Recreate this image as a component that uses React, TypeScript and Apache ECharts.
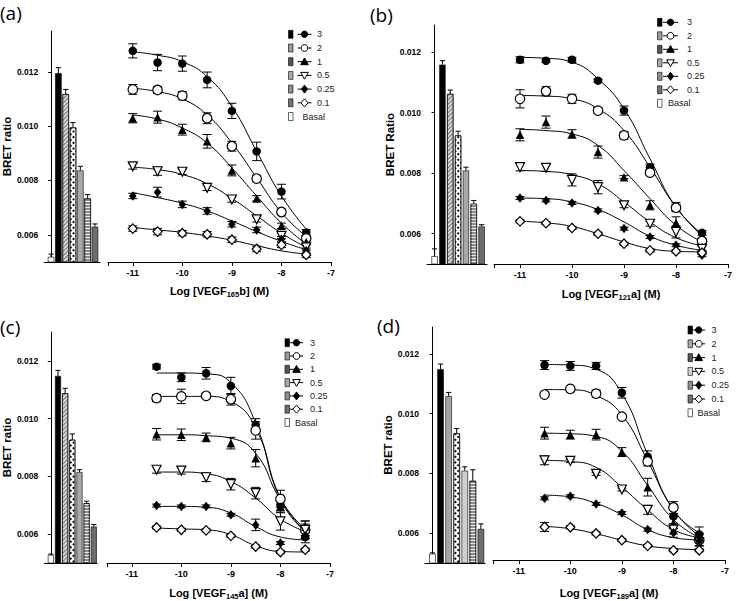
import React, { useEffect, useRef } from 'react';
import * as echarts from 'echarts';

// ---------- DATA ----------
const BAR_GROUPS = ['Basal', '3', '2', '1', '0.5', '0.25', '0.1'];
const CONCENTRATIONS = ['3', '2', '1', '0.5', '0.25', '0.1'];
const LOG_X_AB = [-11, -10.5, -10, -9.5, -9, -8.5, -8, -7.5];
const LOG_X_CD = [-10.5, -10, -9.5, -9, -8.5, -8, -7.5];
const X_MIN = -11.5;
const X_MAX = -7;
const Y_MIN = 0.005;

// Panel (a) VEGF165b
const A_BARS = [0.00519, 0.01195, 0.01118, 0.00995, 0.00837, 0.00734, 0.0063];
const A_BAR_ERR = [0.0001, 0.0002, 0.00017, 0.00018, 0.00015, 0.00014, 0.0001];
const A_POINTS = [
  [0.01277, 0.01234, 0.0123, 0.0117, 0.01056, 0.00907, 0.00759, 0.00609],
  [0.01135, 0.01133, 0.01112, 0.01029, 0.00926, 0.00807, 0.00684, 0.00587],
  [0.01029, 0.01033, 0.00987, 0.00944, 0.00837, 0.00734, 0.00633, 0.00574],
  [0.00852, 0.00834, 0.00832, 0.00773, 0.0073, 0.00657, 0.00596, 0.00554],
  [0.00743, 0.00757, 0.00712, 0.00688, 0.00639, 0.00618, 0.00584, 0.00541],
  [0.00623, 0.00612, 0.00606, 0.00602, 0.00582, 0.00548, 0.00563, 0.00526],
];
const A_ERR = [
  [0.00026, 0.0003, 0.00028, 0.00029, 0.00028, 0.00034, 0.00027, 0.0001],
  [0.00018, 0.00012, 0.00015, 0.0002, 0.00018, 0.00012, 0.0001, 0.0001],
  [0.00017, 0.00022, 0.0002, 0.00025, 0.0002, 0.0001, 0.0001, 0.0001],
  [0.0001, 0.00015, 0.0001, 0.0001, 0.0001, 0.0001, 0.0001, 0.0001],
  [0.0001, 0.00018, 0.00012, 0.00012, 0.0001, 0.0001, 0.0001, 0.0001],
  [0.0001, 0.00012, 0.0001, 0.0001, 0.0001, 0.0001, 0.0001, 0.0001],
];
const A_FIT = [
  [0.01273, 0.01261, 0.01237, 0.01182, 0.01072, 0.00907, 0.00743, 0.00621],
  [0.01139, 0.01127, 0.011, 0.01041, 0.00938, 0.0081, 0.00682, 0.00594],
  [0.01041, 0.01026, 0.00993, 0.00938, 0.00846, 0.00743, 0.00643, 0.00566],
  [0.00849, 0.0084, 0.00822, 0.00788, 0.00734, 0.0067, 0.00606, 0.00554],
  [0.00755, 0.00737, 0.00716, 0.00688, 0.00651, 0.00612, 0.00576, 0.00545],
  [0.00627, 0.00618, 0.00609, 0.00596, 0.0058, 0.0056, 0.00541, 0.00529],
];

// Panel (b) VEGF121a
const B_BARS = [0.00526, 0.01159, 0.01062, 0.00925, 0.00809, 0.00699, 0.00624];
const B_BAR_ERR = [0.00024, 0.00013, 0.00013, 0.00014, 0.00011, 0.00011, 0.00006];
const B_POINTS = [
  [0.01175, 0.01172, 0.01175, 0.01106, 0.01007, 0.0082, 0.00688, 0.00603],
  [0.01046, 0.01071, 0.01046, 0.01007, 0.00925, 0.00802, 0.00686, 0.00576],
  [0.00927, 0.00969, 0.0093, 0.0087, 0.00787, 0.00694, 0.00636, 0.00555],
  [0.0082, 0.00818, 0.00778, 0.00754, 0.00694, 0.00633, 0.00606, 0.0055],
  [0.00718, 0.0071, 0.00702, 0.00677, 0.00617, 0.00589, 0.00562, 0.00529],
  [0.00641, 0.00635, 0.00619, 0.006, 0.00567, 0.00545, 0.00542, 0.00537],
];
const B_ERR = [
  [0.0001, 0.00005, 0.00008, 0.00005, 0.00015, 0.0001, 0.00015, 0.00008],
  [0.0003, 0.00015, 0.00015, 0.0001, 0.00012, 0.0001, 0.0001, 0.00008],
  [0.0002, 0.0002, 0.00014, 0.0002, 0.00005, 0.00015, 0.0002, 0.0001],
  [0.00012, 0.00012, 0.0002, 0.00022, 0.00008, 0.00008, 0.0002, 0.0001],
  [0.00005, 0.00005, 0.00005, 0.00005, 0.00005, 0.00005, 0.00005, 0.00005],
  [0.00005, 0.00005, 0.00005, 0.00005, 0.00005, 0.00005, 0.00005, 0.00005],
];
const B_FIT = [
  [0.01183, 0.0118, 0.01167, 0.01112, 0.01013, 0.00848, 0.00688, 0.006],
  [0.01057, 0.01055, 0.01046, 0.01013, 0.00941, 0.0082, 0.00688, 0.00592],
  [0.00945, 0.00941, 0.0093, 0.00892, 0.00809, 0.00716, 0.00628, 0.00573],
  [0.00809, 0.00806, 0.00795, 0.00765, 0.00705, 0.00639, 0.00587, 0.0056],
  [0.00718, 0.00716, 0.00705, 0.0068, 0.00639, 0.00592, 0.00562, 0.00545],
  [0.00641, 0.00636, 0.00624, 0.006, 0.00573, 0.00551, 0.00542, 0.0054],
];

// Panel (c) VEGF145a
const C_BARS = [0.00528, 0.01148, 0.01088, 0.00927, 0.00815, 0.00707, 0.00626];
const C_BAR_ERR = [0.00003, 0.00019, 0.00017, 0.0002, 0.00008, 0.00007, 0.00007];
const C_POINTS = [
  [0.0118, 0.01143, 0.01157, 0.01113, 0.00978, 0.00701, 0.0059],
  [0.01071, 0.01077, 0.01079, 0.01067, 0.00959, 0.00722, 0.00615],
  [0.00946, 0.00944, 0.00935, 0.00915, 0.00863, 0.00696, 0.00626],
  [0.00823, 0.0082, 0.00797, 0.00773, 0.00742, 0.00644, 0.00615],
  [0.00699, 0.00696, 0.00696, 0.00667, 0.00632, 0.00569, 0.00594],
  [0.00623, 0.00615, 0.00613, 0.00594, 0.00557, 0.00538, 0.00546],
];
const C_ERR = [
  [0.00008, 0.00015, 0.0002, 0.0003, 0.00022, 0.0002, 0.0002],
  [0.00012, 0.00025, 0.0001, 0.0002, 0.0003, 0.0003, 0.0003],
  [0.0002, 0.0002, 0.00015, 0.0002, 0.0003, 0.0002, 0.0002],
  [0.00012, 0.00012, 0.00015, 0.0002, 0.0002, 0.0003, 0.0002],
  [0.00005, 0.00005, 0.00005, 0.00005, 0.0002, 0.00005, 0.0001],
  [0.00005, 0.00005, 0.00005, 0.00005, 0.00005, 0.00005, 0.00005],
];
const C_FIT = [
  [0.01158, 0.01158, 0.01155, 0.01125, 0.00984, 0.00719, 0.00609],
  [0.01077, 0.01077, 0.01077, 0.01059, 0.00967, 0.00725, 0.00609],
  [0.00944, 0.00944, 0.00941, 0.00932, 0.0088, 0.00719, 0.00615],
  [0.00815, 0.00815, 0.00809, 0.00782, 0.00725, 0.00652, 0.00609],
  [0.00696, 0.00696, 0.00693, 0.00673, 0.00626, 0.0059, 0.0058],
  [0.00621, 0.00618, 0.00615, 0.00598, 0.0056, 0.0054, 0.00538],
];

// Panel (d) VEGF189a
const D_BARS = [0.00531, 0.01149, 0.01058, 0.00934, 0.00809, 0.00775, 0.00614];
const D_BAR_ERR = [0.00003, 0.00017, 0.00013, 0.00016, 0.00013, 0.00037, 0.00017];
const D_POINTS = [
  [0.01161, 0.01158, 0.01158, 0.01067, 0.0085, 0.00648, 0.00587],
  [0.01061, 0.0108, 0.01064, 0.00986, 0.00834, 0.00678, 0.00567],
  [0.0093, 0.00925, 0.00925, 0.00866, 0.00747, 0.00626, 0.00581],
  [0.00838, 0.00836, 0.00792, 0.00739, 0.0067, 0.00603, 0.00559],
  [0.00709, 0.00716, 0.0069, 0.00659, 0.00603, 0.00592, 0.00565],
  [0.00612, 0.00611, 0.0059, 0.00567, 0.00548, 0.00533, 0.00533],
];
const D_ERR = [
  [0.00015, 0.00015, 0.00012, 0.00018, 0.0002, 0.00025, 0.00025],
  [0.00005, 0.00005, 0.00012, 0.00005, 0.00015, 0.0002, 0.0002],
  [0.0002, 0.00015, 0.00018, 0.00015, 0.0003, 0.0002, 0.0001],
  [0.00015, 0.00005, 0.00005, 0.00005, 0.00015, 0.00015, 0.0001],
  [0.00005, 0.00005, 0.00005, 0.00005, 0.00005, 0.00015, 0.00005],
  [0.00015, 0.00005, 0.00005, 0.00005, 0.00005, 0.00005, 0.00005],
];
const D_FIT = [
  [0.01163, 0.01161, 0.01147, 0.01064, 0.00858, 0.0067, 0.00592],
  [0.01078, 0.01077, 0.01058, 0.00992, 0.00836, 0.0067, 0.00581],
  [0.0093, 0.00928, 0.00919, 0.00869, 0.00753, 0.00637, 0.00576],
  [0.00838, 0.00834, 0.00814, 0.00747, 0.0067, 0.00603, 0.00576],
  [0.0072, 0.00714, 0.00692, 0.00653, 0.00603, 0.00576, 0.00568],
  [0.00614, 0.00606, 0.00589, 0.00567, 0.00548, 0.00539, 0.00535],
];

const PANELS = [
  { label: '(a)', sub: '165', suffix: 'b', yName: 'BRET ratio', x: LOG_X_AB, bars: A_BARS, barErr: A_BAR_ERR, pts: A_POINTS, err: A_ERR, fit: A_FIT, yMax: 0.0135 },
  { label: '(b)', sub: '121', suffix: 'a', yName: 'BRET Ratio', x: LOG_X_AB, bars: B_BARS, barErr: B_BAR_ERR, pts: B_POINTS, err: B_ERR, fit: B_FIT, yMax: 0.0129 },
  { label: '(c)', sub: '145', suffix: 'a', yName: 'BRET ratio', x: LOG_X_CD, bars: C_BARS, barErr: C_BAR_ERR, pts: C_POINTS, err: C_ERR, fit: C_FIT, yMax: 0.013 },
  { label: '(d)', sub: '189', suffix: 'a', yName: 'BRET ratio', x: LOG_X_CD, bars: D_BARS, barErr: D_BAR_ERR, pts: D_POINTS, err: D_ERR, fit: D_FIT, yMax: 0.0129 },
];

// ---------- LAYOUT / STYLE ----------
const FONT = 'Arial, "Liberation Sans", sans-serif';
const LAYOUT = [
  { barLeft: 43, barRight: 100, curveLeft: 108, curveRight: 331, top: 31, bottom: 262, barMin: -0.94, barMax: 6.69, barWidth: 6.5,
    labelX: 0, labelY: 13, yNameGap: 27, xNameGap: 21, swX: 288.5, lnX1: 297.5, lnX2: 311.5, txX: 317, lgY: 34.3, lgStep: 13.7,
    kinds: ['basal', 'black', 'hatch', 'checker', 'grey', 'stripes', 'dark'] },
  { barLeft: 427, barRight: 487, curveLeft: 494, curveRight: 728, top: 25, bottom: 264, barMin: -0.97, barMax: 6.69, barWidth: 6.3,
    labelX: 370, labelY: 15, yNameGap: 24, xNameGap: 22, swX: 657.5, lnX1: 663, lnX2: 678, txX: 687, lgY: 22.3, lgStep: 13.5,
    kinds: ['basal', 'black', 'hatch', 'checker', 'grey', 'stripes', 'dark'] },
  { barLeft: 42, barRight: 97, curveLeft: 107, curveRight: 330, top: 332, bottom: 563, barMin: -0.93, barMax: 6.45, barWidth: 6,
    labelX: 0, labelY: 327, yNameGap: 27, xNameGap: 22, swX: 285, lnX1: 290, lnX2: 303, txX: 310, lgY: 342.7, lgStep: 13.3,
    kinds: ['basal', 'black', 'hatch', 'checker', 'grey', 'stripes', 'dark'] },
  { barLeft: 425, barRight: 485, curveLeft: 493, curveRight: 725, top: 327, bottom: 563, barMin: -0.93, barMax: 6.51, barWidth: 6.5,
    labelX: 377, labelY: 326, yNameGap: 25, xNameGap: 25, swX: 688, lnX1: 692.5, lnX2: 705, txX: 711.5, lgY: 330, lgStep: 13.8,
    kinds: ['basal', 'black', 'grey2', 'checker', 'light', 'stripes', 'dark'] },
];

const SWATCH_FILL: Record<string, string> = {
  basal: '#ffffff', black: '#000000', hatch: '#9a9a9a', checker: '#555555', grey: '#a8a8a8',
  stripes: '#8f8f8f', dark: '#707070', grey2: '#a5a5a5', light: '#cfcfcf',
};

function barItemStyle(kind: string): any {
  const base = { borderColor: '#000', borderWidth: 0.6 };
  switch (kind) {
    case 'basal': return { ...base, color: '#fff' };
    case 'black': return { ...base, color: '#000' };
    case 'hatch': return { ...base, color: '#d8d8d8', decal: { symbol: 'rect', symbolSize: 1, color: '#777', dashArrayX: [1, 0], dashArrayY: [1, 1.5], rotation: -Math.PI / 4 } };
    case 'checker': return { ...base, color: '#fff', decal: { symbol: 'rect', symbolSize: 1, color: '#111', dashArrayX: [2, 2], dashArrayY: [2, 2], rotation: Math.PI / 4 } };
    case 'grey': return { ...base, color: '#a8a8a8' };
    case 'grey2': return { ...base, color: '#a5a5a5' };
    case 'light': return { ...base, color: '#d0d0d0' };
    case 'stripes': return { ...base, color: '#8c8c8c', decal: { symbol: 'rect', symbolSize: 1, color: '#e8e8e8', dashArrayX: [1, 0], dashArrayY: [1, 1.2], rotation: 0 } };
    case 'dark': return { ...base, color: '#6e6e6e' };
    default: return base;
  }
}

const MARKERS = [
  { symbol: 'circle', size: 8.5, open: false, rotate: 0 },
  { symbol: 'circle', size: 9.5, open: true, rotate: 0 },
  { symbol: 'triangle', size: 8.5, open: false, rotate: 0 },
  { symbol: 'triangle', size: 9, open: true, rotate: 180 },
  { symbol: 'diamond', size: [7.5, 9.5], open: false, rotate: 0 },
  { symbol: 'diamond', size: [9, 9.5], open: true, rotate: 0 },
];

const errRender = (upOnly: boolean, cap: number) => (params: any, api: any) => {
  const x = api.value(0), y = api.value(1), e = api.value(2);
  const t = api.coord([x, y + e]);
  const b = api.coord([x, upOnly ? y : y - e]);
  const st = { stroke: '#000', lineWidth: 1 };
  const ch: any[] = [
    { type: 'line', shape: { x1: t[0], y1: t[1], x2: b[0], y2: b[1] }, style: st },
    { type: 'line', shape: { x1: t[0] - cap, y1: t[1], x2: t[0] + cap, y2: t[1] }, style: st },
  ];
  if (!upOnly) ch.push({ type: 'line', shape: { x1: b[0] - cap, y1: b[1], x2: b[0] + cap, y2: b[1] }, style: st });
  return { type: 'group', children: ch };
};

function legendMarker(si: number, cx: number, cy: number): any {
  const black = { fill: '#000', stroke: '#000', lineWidth: 1 };
  const open = { fill: '#fff', stroke: '#000', lineWidth: 1 };
  switch (si) {
    case 0: return { type: 'circle', shape: { cx, cy, r: 3.2 }, style: black };
    case 1: return { type: 'circle', shape: { cx, cy, r: 3.4 }, style: open };
    case 2: return { type: 'polygon', shape: { points: [[cx, cy - 3.8], [cx - 3.8, cy + 3], [cx + 3.8, cy + 3]] }, style: black };
    case 3: return { type: 'polygon', shape: { points: [[cx - 3.8, cy - 3], [cx + 3.8, cy - 3], [cx, cy + 3.8]] }, style: open };
    case 4: return { type: 'polygon', shape: { points: [[cx, cy - 4], [cx + 3, cy], [cx, cy + 4], [cx - 3, cy]] }, style: black };
    default: return { type: 'polygon', shape: { points: [[cx, cy - 4], [cx + 3.6, cy], [cx, cy + 4], [cx - 3.6, cy]] }, style: open };
  }
}

function buildOption(): any {
  const grid: any[] = [], xAxis: any[] = [], yAxis: any[] = [], series: any[] = [], graphic: any[] = [];
  const axisLine = { show: true, lineStyle: { color: '#000', width: 1 } };

  PANELS.forEach((p, pi) => {
    const L = LAYOUT[pi];
    const gb = pi * 2, gc = pi * 2 + 1;
    const h = L.bottom - L.top;
    grid.push({ left: L.barLeft, top: L.top, width: L.barRight - L.barLeft, height: h });
    grid.push({ left: L.curveLeft, top: L.top, width: L.curveRight - L.curveLeft, height: h });

    xAxis.push({ gridIndex: gb, type: 'value', min: L.barMin, max: L.barMax, axisLine, axisTick: { show: false }, axisLabel: { show: false }, splitLine: { show: false } });
    xAxis.push({
      gridIndex: gc, type: 'value', min: X_MIN, max: X_MAX, minInterval: 1, maxInterval: 1, axisLine,
      axisTick: { show: true, length: 4, lineStyle: { color: '#000' } },
      axisLabel: { formatter: (v: number) => (Number.isInteger(v) ? String(v) : ''), fontSize: 9, fontWeight: 'bold', color: '#000', margin: 6, fontFamily: FONT },
      splitLine: { show: false },
      name: `{t|Log [VEGF}{s|${p.sub}}{t|${p.suffix}] (M)}`,
      nameLocation: 'middle', nameGap: L.xNameGap,
      nameTextStyle: {
        color: '#000',
        rich: {
          t: { fontSize: 11, fontWeight: 'bold', fontFamily: FONT, color: '#000', lineHeight: 15 },
          s: { fontSize: 7.5, fontWeight: 'bold', fontFamily: FONT, color: '#000', lineHeight: 8, verticalAlign: 'bottom' },
        },
      },
    });
    yAxis.push({
      gridIndex: gb, type: 'value', min: Y_MIN, max: p.yMax, minInterval: 0.002, maxInterval: 0.002, axisLine,
      axisTick: { show: true, length: 3, lineStyle: { color: '#000' } },
      axisLabel: { formatter: (v: number) => v.toFixed(3), showMinLabel: false, showMaxLabel: false, fontSize: 8.5, fontWeight: 'bold', color: '#000', margin: 6, fontFamily: FONT },
      splitLine: { show: false },
      name: p.yName, nameLocation: 'middle', nameGap: L.yNameGap,
      nameTextStyle: { fontWeight: 'bold', fontSize: 11.5, fontFamily: FONT, color: '#000' },
    });
    yAxis.push({ gridIndex: gc, type: 'value', min: Y_MIN, max: p.yMax, show: false, splitLine: { show: false } });

    // bars
    series.push({
      type: 'bar', xAxisIndex: gb, yAxisIndex: gb, barWidth: L.barWidth, silent: true, z: 2,
      data: p.bars.map((v, i) => ({ name: BAR_GROUPS[i], value: [i, v], itemStyle: barItemStyle(L.kinds[i]) })),
    });
    series.push({
      type: 'custom', xAxisIndex: gb, yAxisIndex: gb, renderItem: errRender(true, 2.6), encode: { x: 0, y: 1 }, silent: true, z: 3,
      data: p.bars.map((v, i) => [i, v, p.barErr[i]]),
    });

    // curves
    CONCENTRATIONS.forEach((name, si) => {
      series.push({
        type: 'line', name, xAxisIndex: gc, yAxisIndex: gc, symbol: 'none', showSymbol: false, smooth: 0.5, silent: true, z: 2,
        lineStyle: { color: '#000', width: 1 },
        data: p.x.map((x, i) => [x, p.fit[si][i]]),
      });
      series.push({
        type: 'custom', xAxisIndex: gc, yAxisIndex: gc, renderItem: errRender(false, 4.5), encode: { x: 0, y: 1 }, silent: true, z: 3,
        data: p.x.map((x, i) => [x, p.pts[si][i], p.err[si][i]]),
      });
      const m = MARKERS[si];
      series.push({
        type: 'scatter', name, xAxisIndex: gc, yAxisIndex: gc, symbol: m.symbol, symbolSize: m.size, symbolRotate: m.rotate, silent: true, z: 5,
        itemStyle: { color: m.open ? '#fff' : '#000', borderColor: '#000', borderWidth: m.open ? 1.2 : 0, opacity: 1 },
        data: p.x.map((x, i) => [x, p.pts[si][i]]),
      });
    });

    // panel label
    graphic.push({ type: 'text', x: L.labelX, y: L.labelY, style: { text: p.label, fontSize: 19, fontFamily: '"Open Sans", "Liberation Sans", sans-serif', fill: '#000', verticalAlign: 'middle' } });

    // legend
    const rows = [...CONCENTRATIONS, 'Basal'];
    rows.forEach((name, ri) => {
      const cy = L.lgY + ri * L.lgStep;
      const kind = ri < 6 ? L.kinds[ri + 1] : L.kinds[0];
      graphic.push({ type: 'rect', shape: { x: L.swX, y: cy - 4, width: 4.5, height: 8 }, style: { fill: SWATCH_FILL[kind], stroke: '#000', lineWidth: 0.6 } });
      if (ri < 6) {
        graphic.push({ type: 'line', shape: { x1: L.lnX1, y1: cy, x2: L.lnX2, y2: cy }, style: { stroke: '#000', lineWidth: 1 } });
        graphic.push(legendMarker(ri, (L.lnX1 + L.lnX2) / 2, cy));
      }
      graphic.push({ type: 'text', x: ri < 6 ? L.txX : L.lnX1 + 5, y: cy, style: { text: name, fontSize: 9, fontFamily: FONT, fill: '#222', verticalAlign: 'middle' } });
    });
  });

  return { animation: false, backgroundColor: '#fff', grid, xAxis, yAxis, series, graphic };
}

export default function App() {
  const ref = useRef<HTMLDivElement>(null);
  useEffect(() => {
    if (!ref.current) return;
    const chart = echarts.init(ref.current, undefined, { renderer: 'svg' });
    chart.setOption(buildOption());
    return () => chart.dispose();
  }, []);
  return <div ref={ref} style={{ position: 'absolute', left: 0, top: 0, width: 737, height: 601, background: '#fff' }} />;
}
